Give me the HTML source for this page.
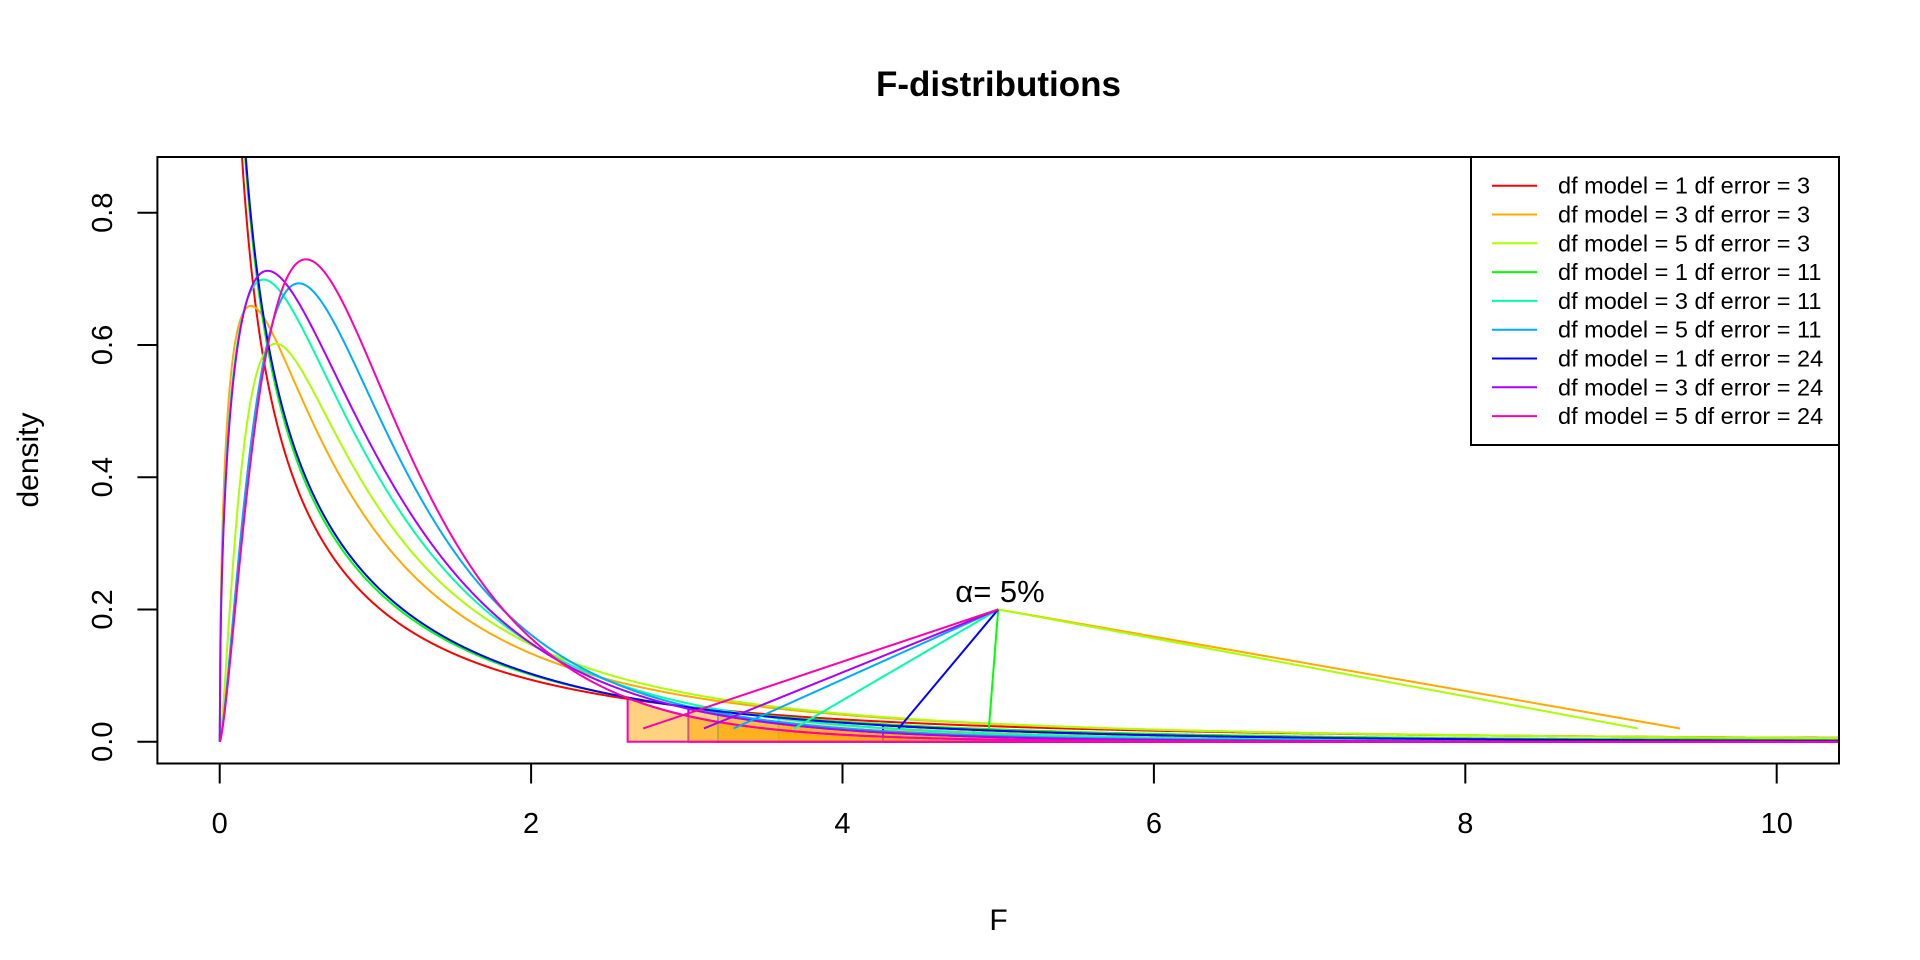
<!DOCTYPE html>
<html><head><meta charset="utf-8"><style>
html,body{margin:0;padding:0;background:#fff;}
svg{display:block;font-family:"Liberation Sans",Arial,sans-serif;}
</style></head><body>
<svg id="s" width="1920" height="960" xmlns="http://www.w3.org/2000/svg">
<defs><clipPath id="c"><rect x="157.4" y="157" width="1681.6" height="606.5"/></clipPath></defs>
<g id="shade" clip-path="url(#c)"></g>
<g id="curves" clip-path="url(#c)"></g>
<g id="lines"></g>
<rect x="157.4" y="157" width="1681.6" height="606.5" fill="none" stroke="#000" stroke-width="2"/>
<g stroke="#000" stroke-width="2">
<line x1="219.7" y1="763.5" x2="219.7" y2="783.5"/><line x1="531.1" y1="763.5" x2="531.1" y2="783.5"/><line x1="842.5" y1="763.5" x2="842.5" y2="783.5"/><line x1="1153.9" y1="763.5" x2="1153.9" y2="783.5"/><line x1="1465.3" y1="763.5" x2="1465.3" y2="783.5"/><line x1="1776.7" y1="763.5" x2="1776.7" y2="783.5"/>
<line x1="137.4" y1="741.7" x2="157.4" y2="741.7"/><line x1="137.4" y1="609.45" x2="157.4" y2="609.45"/><line x1="137.4" y1="477.2" x2="157.4" y2="477.2"/><line x1="137.4" y1="344.95" x2="157.4" y2="344.95"/><line x1="137.4" y1="212.7" x2="157.4" y2="212.7"/>
</g>
<g font-size="29" text-anchor="middle" fill="#000">
<text x="219.7" y="833">0</text><text x="531.1" y="833">2</text><text x="842.5" y="833">4</text><text x="1153.9" y="833">6</text><text x="1465.3" y="833">8</text><text x="1776.7" y="833">10</text>
<text transform="translate(112,741.7) rotate(-90)">0.0</text>
<text transform="translate(112,609.45) rotate(-90)">0.2</text>
<text transform="translate(112,477.2) rotate(-90)">0.4</text>
<text transform="translate(112,344.95) rotate(-90)">0.6</text>
<text transform="translate(112,212.7) rotate(-90)">0.8</text>
<text x="998.5" y="930" font-size="30">F</text>
<text transform="translate(38,460) rotate(-90)" font-size="30">density</text>
<text x="1000" y="602" font-size="31">α= 5%</text>
<text x="998.5" y="96" font-size="35" font-weight="bold">F-distributions</text>
</g>
<rect x="1471" y="157" width="368" height="288" fill="#fff" stroke="#000" stroke-width="2"/>
<g id="leg" font-size="23.5"></g>
</svg>
<script>
var NS="http://www.w3.org/2000/svg";
function lg(z){var g=7,c=[0.99999999999980993,676.5203681218851,-1259.1392167224028,771.32342877765313,-176.61502916214059,12.507343278686905,-0.13857109526572012,9.9843695780195716e-6,1.5056327351493116e-7];
if(z<0.5)return Math.log(Math.PI/Math.sin(Math.PI*z))-lg(1-z);z-=1;var x=c[0];for(var i=1;i<g+2;i++)x+=c[i]/(z+i);var t=z+g+0.5;return 0.5*Math.log(2*Math.PI)+(z+0.5)*Math.log(t)-t+Math.log(x);}
function df(x,m,n){if(x<=0)return 0;var l=lg((m+n)/2)-lg(m/2)-lg(n/2)+(m/2)*Math.log(m/n)+(m/2-1)*Math.log(x)-((m+n)/2)*Math.log(1+m*x/n);return Math.exp(l);}
function X(x){return 219.7+155.7*x;}function Y(y){return 741.7-661.25*y;}
var cols=["#FF0000","#FFAA00","#AAFF00","#00FF00","#00FFAA","#00AAFF","#0000FF","#AA00FF","#FF00AA"];
var ser=[[1,3,10.13],[3,3,9.28],[5,3,9.01],[1,11,4.84],[3,11,3.59],[5,11,3.20],[1,24,4.26],[3,24,3.01],[5,24,2.62]];
var sh=document.getElementById("shade"),cv=document.getElementById("curves"),ln=document.getElementById("lines"),lgd=document.getElementById("leg");
function el(p,t,a){var e=document.createElementNS(NS,t);for(var k in a)e.setAttribute(k,a[k]);p.appendChild(e);return e;}
ser.forEach(function(s,i){
 var m=s[0],n=s[1],q=s[2];
 var d="M"+X(q)+","+Y(0);
 for(var x=q;x<=10.5;x+=0.02)d+="L"+X(x).toFixed(2)+","+Y(df(x,m,n)).toFixed(2);
 d+="L"+X(10.5)+","+Y(0)+"Z";
 el(sh,"path",{d:d,fill:"rgba(255,165,0,0.5)",stroke:cols[i],"stroke-width":2});
});
ser.forEach(function(s,i){
 var m=s[0],n=s[1];var d="";
 for(var k=0;k<=2100;k++){var x=k*0.005;var y=df(x,m,n);if(m==1&&x==0)continue;if(y>2)y=2;d+=(d?"L":"M")+X(x).toFixed(2)+","+Y(y).toFixed(2);}
 el(cv,"path",{d:d,fill:"none",stroke:cols[i],"stroke-width":2});
 if(i>0)el(ln,"line",{x1:X(5),y1:Y(0.2),x2:X(s[2]+0.1),y2:Y(0.02),stroke:cols[i],"stroke-width":2});
 var yy=185.7+i*28.8;
 el(lgd,"line",{x1:1492,y1:yy,x2:1537,y2:yy,stroke:cols[i],"stroke-width":2});
 var t=el(lgd,"text",{x:1558,y:yy+8});t.textContent="df model = "+m+" df error = "+n;
});
</script>
</body></html>
